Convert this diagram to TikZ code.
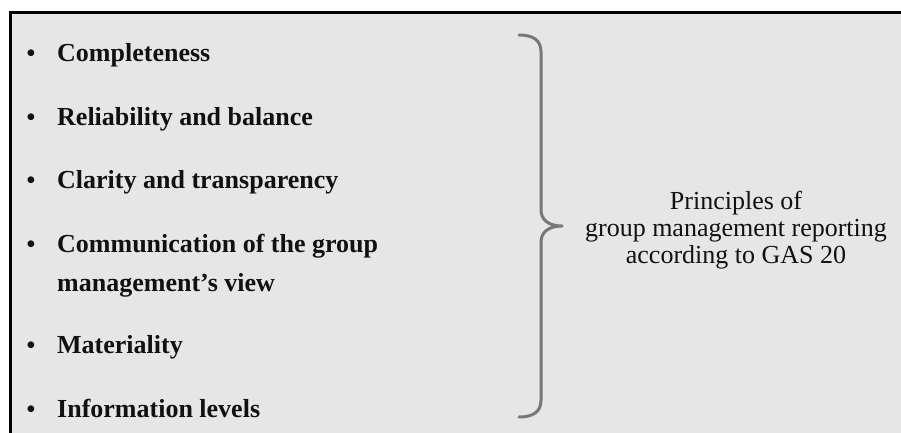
\documentclass[tikz,border=0pt]{standalone}
\usepackage{fontspec}
\setmainfont{Liberation Serif}
\definecolor{panel}{HTML}{E6E6E6}
\definecolor{bracegray}{HTML}{777777}
\definecolor{ink}{HTML}{111111}
\begin{document}
\begin{tikzpicture}[x=1pt,y=1pt,
    item/.style={anchor=base west, inner sep=0pt, align=left, text=ink,
      font=\fontsize{26}{39}\selectfont\bfseries},
    dot/.style={anchor=base, inner sep=0pt, text=ink,
      font=\fontsize{25}{25}\selectfont\bfseries},
    caption/.style={anchor=base, inner sep=0pt, align=center, text=ink,
      font=\fontsize{26}{27}\selectfont},
    bracestyle/.style={bracegray, line width=3pt, line cap=round, line join=round}]
  \useasboundingbox (0,0) rectangle (901,432);
  \fill[white] (0,0) rectangle (901,432);
  \begin{scope}
    \clip (0,0) rectangle (901,432);
    % framed panel running off the right and bottom edges
    \draw[line width=3pt, fill=panel] (10.5,-20) rectangle (920,419.5);
  \end{scope}

  % bulleted list of principles (multi-line nodes sit on their last baseline)
  \node[item] (i1) at (57,370) {Completeness};
  \node[item] (i2) at (57,307) {Reliability and balance};
  \node[item] (i3) at (57,244) {Clarity and transparency};
  \node[item] (i4) at (57,141) {Communication of the group\\management's view};
  \node[item] (i5) at (57,79) {Materiality};
  \node[item] (i6) at (57,15) {Information levels};
  \foreach \n/\y in {1/370,2/307,3/244,4/180,5/79,6/15}
    \node[dot] (b\n) at (31,\y) {\textbullet};

  % curly brace grouping the list
  \coordinate (btop) at (519,397);
  \coordinate (btip) at (562,206);
  \coordinate (bbot) at (519,15);
  \draw[bracestyle] (btop)
    .. controls (533,397) and (541,392) .. (541,380)
    -- (541,222)
    .. controls (541,212) and (549,206) .. (btip)
    .. controls (549,206) and (541,200) .. (541,190)
    -- (541,32)
    .. controls (541,20) and (533,15) .. (bbot);

  % summary label
  \node[caption] (cap) at (736,169) {Principles of\\group management reporting\\according to GAS 20};
\end{tikzpicture}
\end{document}
